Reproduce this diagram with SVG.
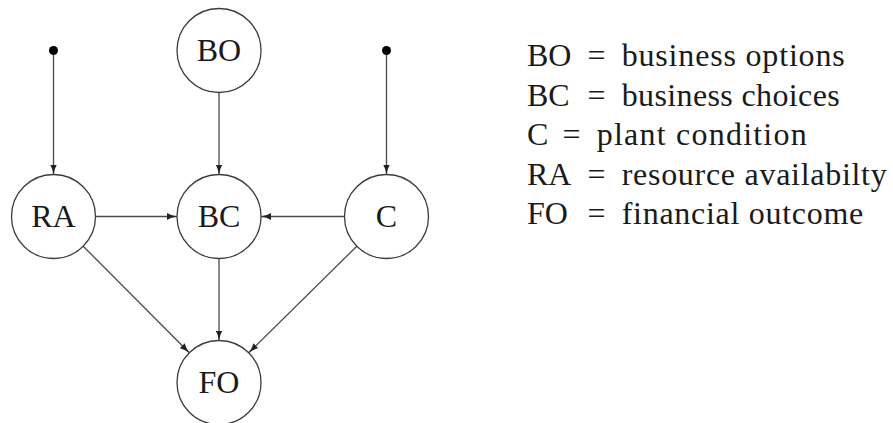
<svg xmlns="http://www.w3.org/2000/svg" width="893" height="423" viewBox="0 0 893 423">
  <style>
    .node circle { fill: #ffffff; stroke: #3c3c3c; stroke-width: 1.3; }
    .node text, .legend text { font-family: "Liberation Serif", "Times New Roman", serif; font-size: 32px; fill: #1a1a1a; }
    .node text { text-anchor: middle; }
    .edge { fill: none; stroke: #4a4a4a; stroke-width: 1.3; marker-end: url(#arrow); }
    .dot { fill: #000000; }
  </style>
  <defs>
    <marker id="arrow" markerUnits="userSpaceOnUse" viewBox="0 0 10 7" markerWidth="10" markerHeight="7" refX="10" refY="3.5" orient="auto">
      <path d="M0,0 Q4,2.6 10,3.5 Q4,4.4 0,7 z" fill="#222222"/>
    </marker>
  </defs>
  <rect width="893" height="423" fill="#ffffff"/>

  <g id="connectors">
    <line class="edge" x1="53.5" y1="50.5" x2="53.5" y2="174.5"/>
    <line class="edge" x1="386.5" y1="50.5" x2="386.5" y2="174.5"/>
    <line class="edge" x1="219" y1="92.5" x2="219" y2="174.5"/>
    <line class="edge" x1="95.5" y1="216.5" x2="177" y2="216.5"/>
    <line class="edge" x1="344.5" y1="216.5" x2="261" y2="216.5"/>
    <line class="edge" x1="219" y1="258.5" x2="219" y2="340.5"/>
    <line class="edge" x1="83.2" y1="246.2" x2="189.3" y2="352.8"/>
    <line class="edge" x1="356.8" y1="246.2" x2="248.7" y2="352.8"/>
  </g>

  <g id="source-RA"><circle class="dot" cx="53.5" cy="50.5" r="4.5"/></g>
  <g id="source-C"><circle class="dot" cx="386.5" cy="50.5" r="4.5"/></g>

  <g id="node-BO" class="node"><circle cx="219" cy="50.5" r="42"/><text x="219" y="61">BO</text></g>
  <g id="node-RA" class="node"><circle cx="53.5" cy="216.5" r="42"/><text x="53.5" y="227">RA</text></g>
  <g id="node-BC" class="node"><circle cx="219" cy="216.5" r="42"/><text x="219" y="227">BC</text></g>
  <g id="node-C" class="node"><circle cx="386.5" cy="216.5" r="42"/><text x="386.5" y="227">C</text></g>
  <g id="node-FO" class="node"><circle cx="219" cy="382.5" r="42"/><text x="219" y="393">FO</text></g>

  <g id="legend" class="legend">
    <text x="527" y="66">BO</text>
    <text x="596.5" y="66" text-anchor="middle">=</text>
    <text x="621.7" y="66" textLength="223" lengthAdjust="spacing">business options</text>

    <text x="527" y="105.5">BC</text>
    <text x="596.5" y="105.5" text-anchor="middle">=</text>
    <text x="621.7" y="105.5" textLength="218" lengthAdjust="spacing">business choices</text>

    <text x="527" y="145">C</text>
    <text x="571.5" y="145" text-anchor="middle">=</text>
    <text x="596.7" y="145" textLength="210" lengthAdjust="spacing">plant condition</text>

    <text x="527" y="184.5">RA</text>
    <text x="596.5" y="184.5" text-anchor="middle">=</text>
    <text x="621.7" y="184.5" textLength="265" lengthAdjust="spacing">resource availabilty</text>

    <text x="527" y="224">FO</text>
    <text x="596.5" y="224" text-anchor="middle">=</text>
    <text x="621.7" y="224" textLength="241.6" lengthAdjust="spacing">financial outcome</text>
  </g>
</svg>
